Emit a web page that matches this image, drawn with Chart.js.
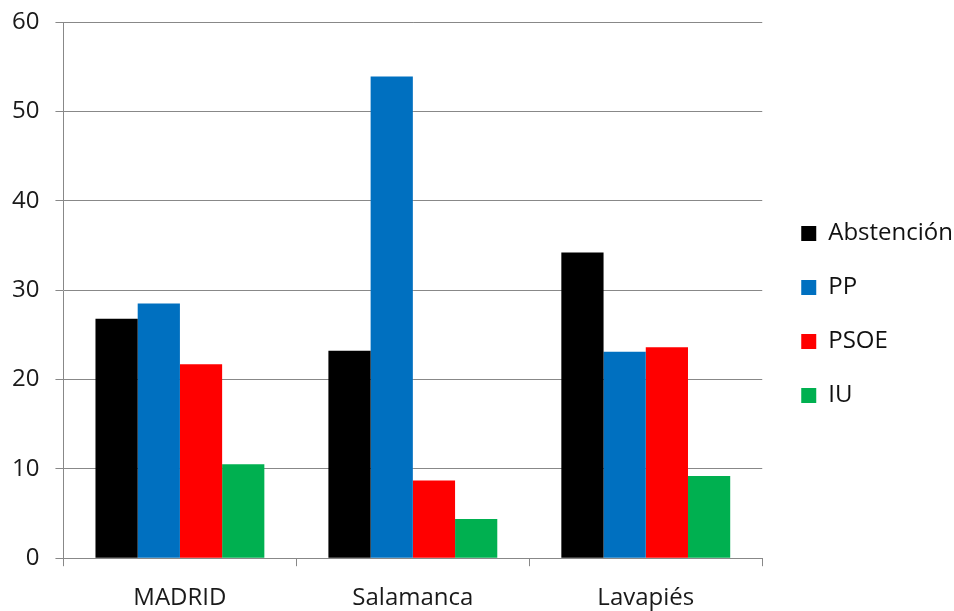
<!DOCTYPE html>
<html>
<head>
<meta charset="utf-8">
<script src="https://cdn.jsdelivr.net/npm/chart.js"></script>
<style>
	html, body { margin: 0; padding: 0; background: #fff; }
	#wrap { width: 954px; height: 611px; }
</style>
</head>
<body>
<div id="wrap"><canvas id="grafico"></canvas></div>
<script>
var categorias = ["MADRID", "Salamanca", "Lavapiés"];
var abstencion = [26.8, 23.2, 34.2];
var pp = [28.5, 53.9, 23.1];
var psoe = [21.7, 8.7, 23.6];
var iu = [10.5, 4.4, 9.2];
var ticksY = [0, 10, 20, 30, 40, 50, 60];

var fuente = "'Open Sans', sans-serif";

var data = {
	labels: categorias,
	datasets: [
		{ label: "Abstención", data: abstencion, backgroundColor: "#000000" },
		{ label: "PP", data: pp, backgroundColor: "#0070C0" },
		{ label: "PSOE", data: psoe, backgroundColor: "#FF0000" },
		{ label: "IU", data: iu, backgroundColor: "#00B050" }
	]
};

// nudge the legend right and up, where it sits in the original
var moverLeyenda = {
	id: "moverLeyenda",
	afterLayout: function (chart) {
		if (chart.legend) {
			chart.legend.left += 9;
			chart.legend.right += 9;
			chart.legend.top -= 12;
			chart.legend.bottom -= 12;
		}
	}
};

var options = {
	responsive: true,
	maintainAspectRatio: false,
	animation: false,
	layout: { padding: { left: -4, top: 22, right: 0, bottom: -20 } },
	datasets: {
		bar: { categoryPercentage: 0.725, barPercentage: 1.0, borderWidth: 0 }
	},
	plugins: {
		tooltip: { enabled: false },
		legend: {
			display: true,
			position: "right",
			labels: {
				boxWidth: 15,
				boxHeight: 15,
				padding: 30,
				color: "#111",
				font: { family: fuente, size: 24 }
			}
		}
	},
	scales: {
		x: {
			grid: { display: true, drawOnChartArea: false, drawTicks: true, tickLength: 8, color: "#888", offset: true },
			border: { color: "#888", width: 1 },
			ticks: { color: "#1a1a1a", padding: 18, font: { family: fuente, size: 24 } }
		},
		y: {
			min: 0,
			max: 60,
			afterBuildTicks: function (axis) {
				axis.ticks = ticksY.map(function (v) { return { value: v }; });
			},
			afterFit: function (axis) {
				// the label padding is horizontal only here
				axis.paddingTop = 0;
				axis.paddingBottom = 0;
			},
			grid: { color: "#888", lineWidth: 1, tickLength: 8 },
			border: { color: "#888", width: 1 },
			ticks: { color: "#1a1a1a", padding: 16, font: { family: fuente, size: 24 } }
		}
	}
};

var ctx = document.getElementById("grafico").getContext("2d");
var chart = new Chart(ctx, { type: "bar", data: data, options: options, plugins: [moverLeyenda] });
</script>
</body>
</html>
